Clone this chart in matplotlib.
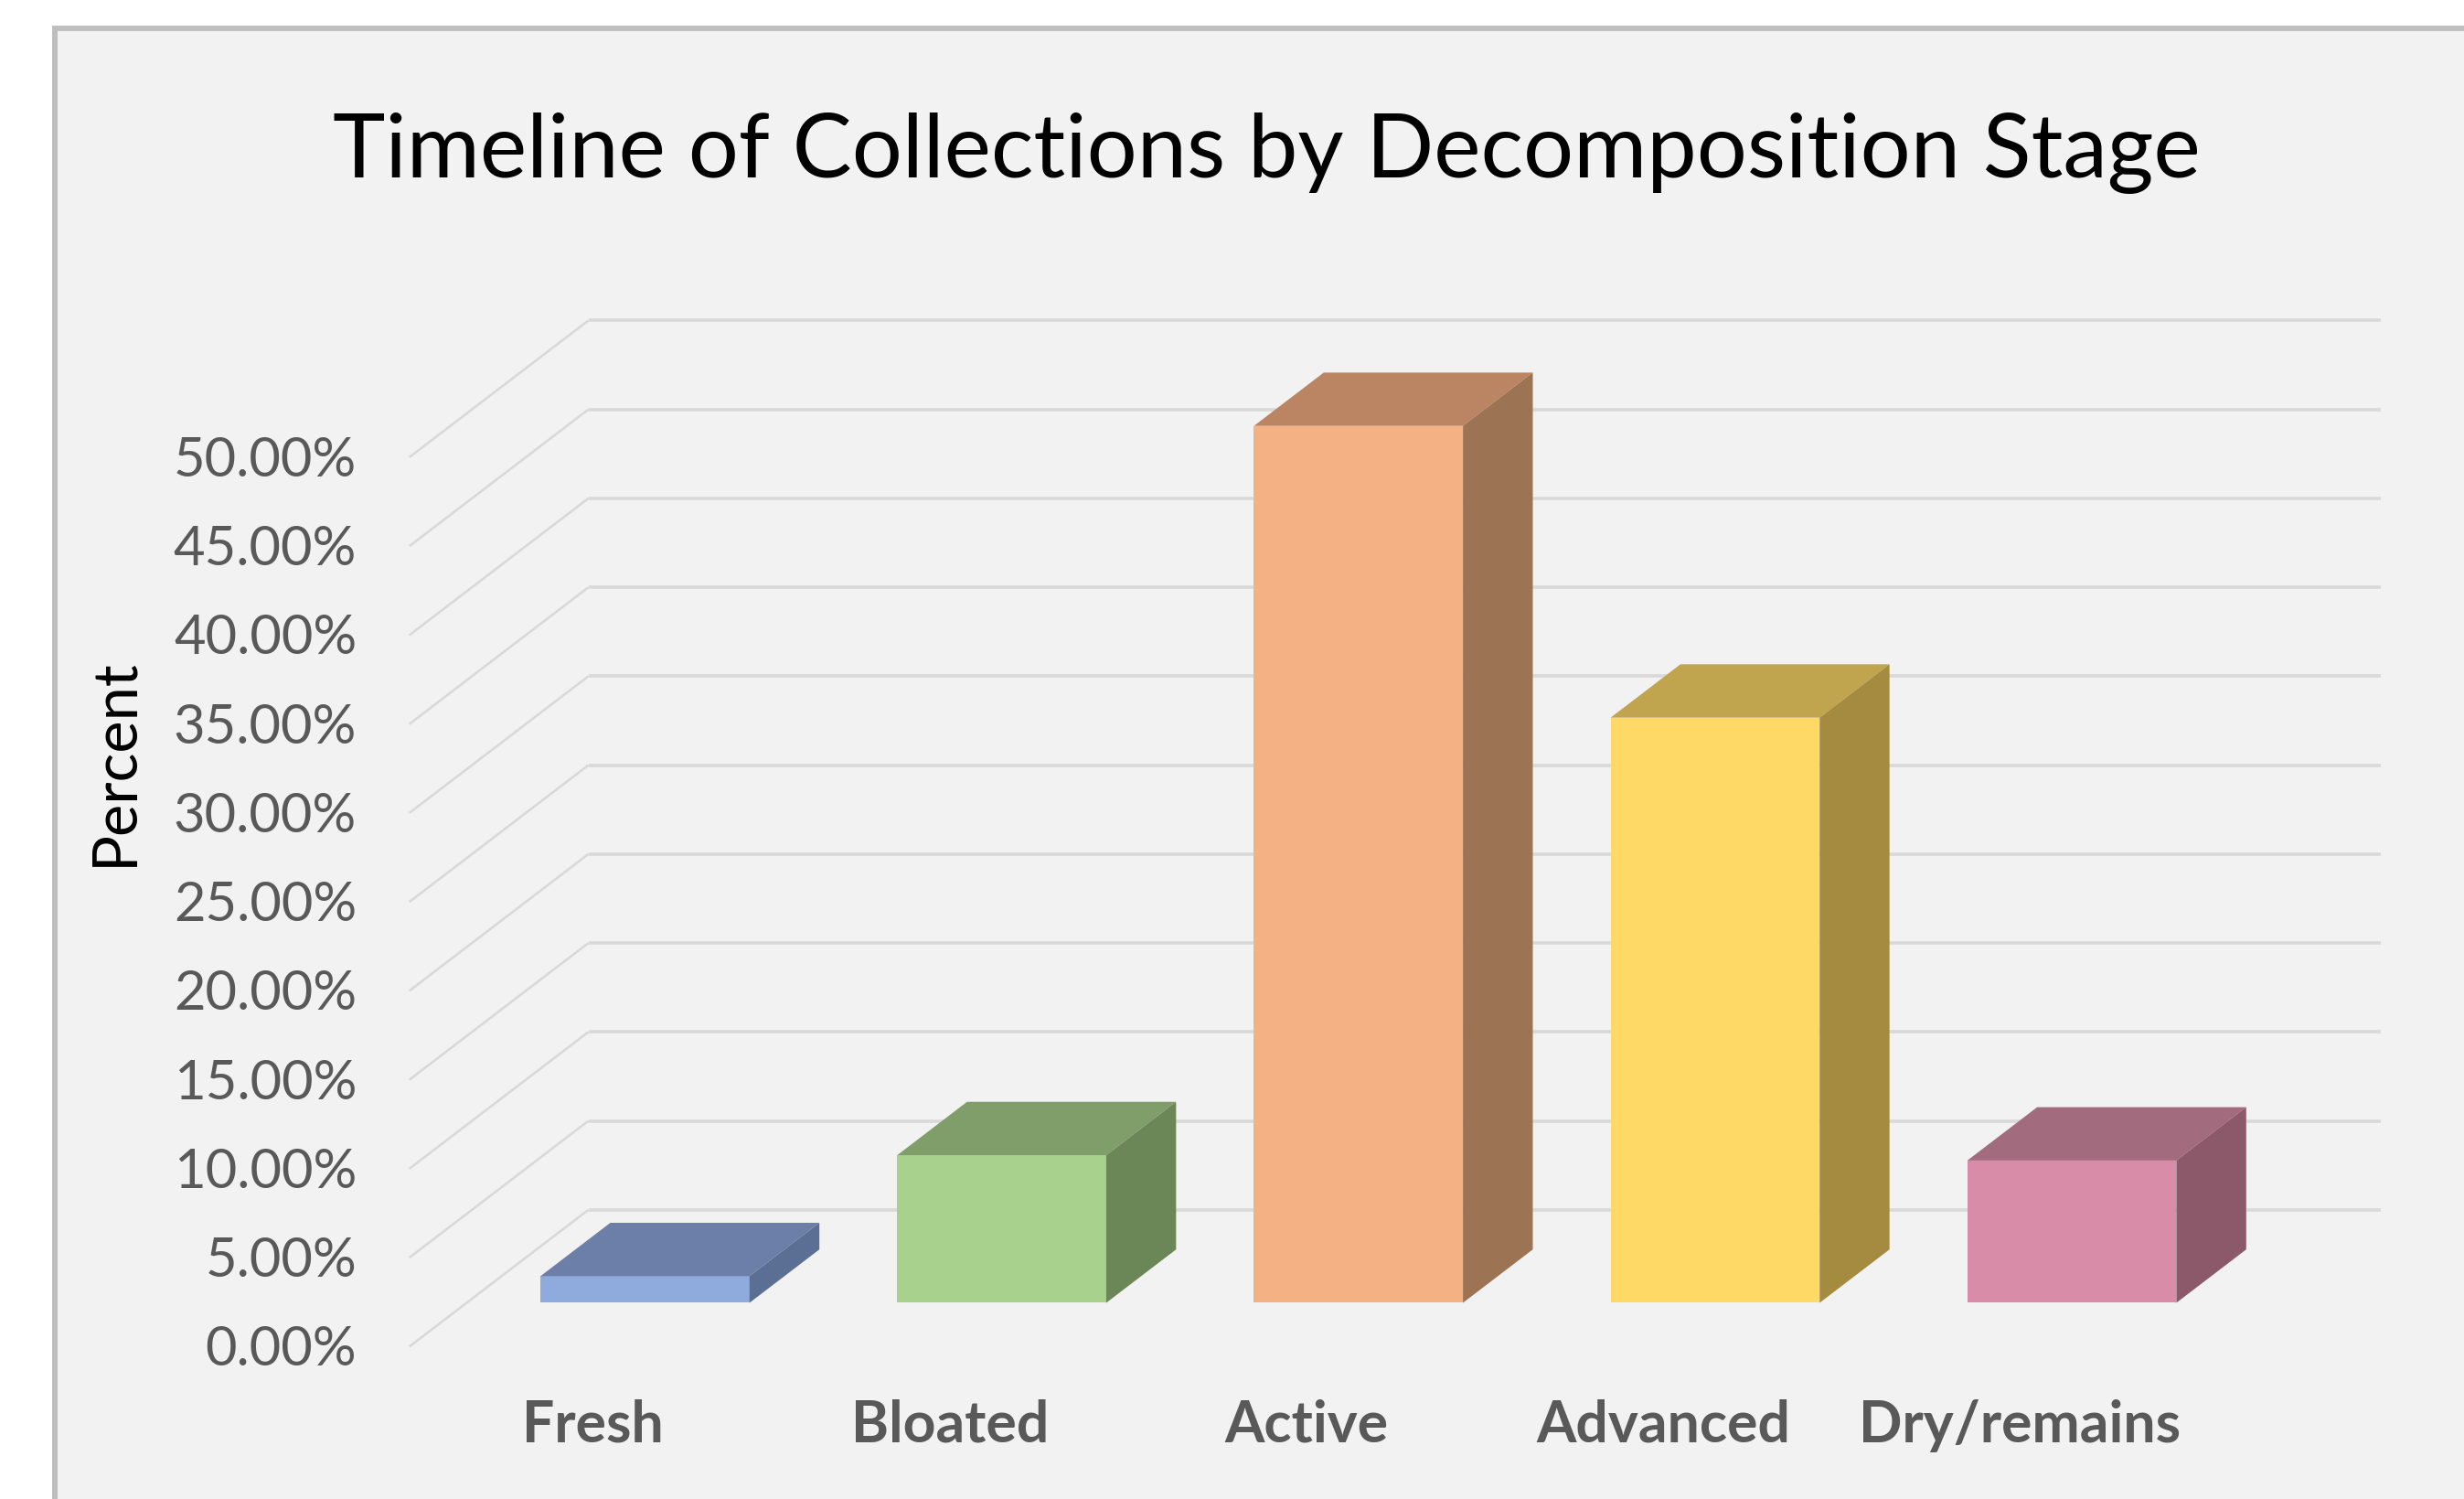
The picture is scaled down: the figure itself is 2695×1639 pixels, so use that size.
import matplotlib
matplotlib.use("Agg")
import matplotlib.pyplot as plt
from matplotlib.patches import Polygon, Rectangle

# ---- data ----
categories = ["Fresh", "Bloated", "Active", "Advanced", "Dry/remains"]
percent = [1.5, 8.3, 49.3, 32.9, 8.0]
tick_values = [0, 5, 10, 15, 20, 25, 30, 35, 40, 45, 50]
tick_labels = [f"{v:.2f}%" for v in tick_values]
title = "Timeline of Collections by Decomposition Stage"
ylabel = "Percent"

front_colors = ["#8faadc", "#a9d18e", "#f4b183", "#ffd966", "#d88ca7"]
top_colors = ["#6b7fa8", "#809e6a", "#bb8563", "#c0a44e", "#a36b7e"]
side_colors = ["#5b6e94", "#6b8657", "#9c7353", "#a58b40", "#8b5969"]

# ---- layout / style ----
W, H = 2695, 1639
DPI = 100
FONT = "Lato"
GRID = "#d9d9d9"
TXT = "#595959"

DX, DY = 0.502, 7.69        # full depth of the 3D box (x units, percent units)
F0, FB = 0.32, 0.39          # bar front depth fraction, bar depth fraction
BW = 0.586                   # bar width

fig = plt.figure(figsize=(W / DPI, H / DPI), dpi=DPI, facecolor="white")

ax = fig.add_axes([0, 0, 1, 1])
ax.set_facecolor("none")
ax.axis("off")
ax.set_xlim(-1.6476, 5.260)
ax.set_ylim(-8.569, 75.707)

# chart area (background + border)
ax.add_patch(Rectangle((60 / W, -0.2), 1.3, 1 - 31 / H + 0.2,
                       transform=fig.transFigure, facecolor="#f2f2f2",
                       edgecolor="#bfbfbf", linewidth=4.3, zorder=0,
                       clip_on=False))

n = len(categories)
x_left = -0.5
x_right = n - 0.5

# gridlines: side wall diagonals + back wall horizontals
for v in tick_values:
    ax.plot([x_left, x_left + DX], [v, v + DY], color=GRID, lw=1.9,
            solid_capstyle="butt", zorder=1)
    ax.plot([x_left + DX, x_right + DX + 0.025], [v + DY, v + DY], color=GRID,
            lw=2.6, solid_capstyle="butt", zorder=1)

# tick labels
for v, lab in zip(tick_values, tick_labels):
    ax.text(x_left - 0.1476, v - 0.2, lab, ha="right", va="center",
            fontsize=43, color=TXT, family=FONT, zorder=3)

# bars
base = F0 * DY
bx, by = FB * DX, FB * DY
xs = [i + F0 * DX for i in range(n)]
ax.bar(xs, percent, width=BW, bottom=base, color=front_colors,
       edgecolor="none", zorder=2)
for i, v in enumerate(percent):
    xl = xs[i] - BW / 2
    xr = xs[i] + BW / 2
    top = base + v
    ax.add_patch(Polygon([(xl, top), (xr, top), (xr + bx, top + by),
                          (xl + bx, top + by)], closed=True,
                         facecolor=top_colors[i], edgecolor="none", zorder=2))
    ax.add_patch(Polygon([(xr, base), (xr, top), (xr + bx, top + by),
                          (xr + bx, base + by)], closed=True,
                         facecolor=side_colors[i], edgecolor="none", zorder=2))

# category labels
for i, c in enumerate(categories):
    ax.text(i + 0.015, -4.45, c, ha="center", va="center", fontsize=45,
            fontweight="bold", color=TXT, family=FONT, zorder=3)

# title and axis title
ax.text(0.514, 0.898, title, ha="center", va="center", fontsize=70,
        color="black", family=FONT, transform=fig.transFigure, zorder=3)
ax.text(0.0466, 0.4916, ylabel, ha="center", va="center", rotation=90,
        fontsize=48, color="black", family=FONT, transform=fig.transFigure,
        zorder=3)

fig.savefig("out.png", dpi=DPI, facecolor="white")
